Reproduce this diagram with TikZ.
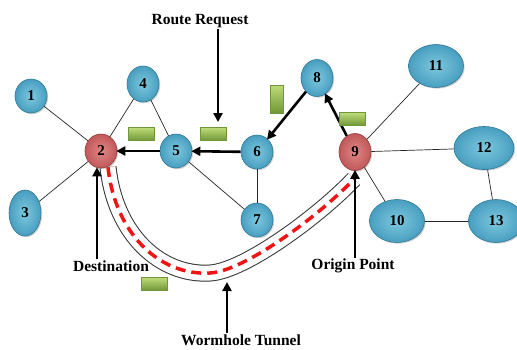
\documentclass[tikz,border=0pt]{standalone}
\usepackage{fontspec}
\setmainfont{Liberation Serif}
\usetikzlibrary{arrows.meta, positioning, shapes.geometric, shadows}

\definecolor{nodeblue}{RGB}{125,200,222}
\definecolor{nodeblueout}{RGB}{72,158,192}
\definecolor{rimblue}{RGB}{48,120,150}
\definecolor{nodered}{RGB}{225,135,135}
\definecolor{noderedout}{RGB}{192,88,88}
\definecolor{rimred}{RGB}{150,60,60}
\definecolor{boxgreen}{RGB}{190,220,120}
\definecolor{boxgreendark}{RGB}{112,150,55}
\definecolor{tunnelred}{RGB}{240,20,20}

\begin{document}
\begin{tikzpicture}[x=1pt, y=-1pt,
  main/.style = {ellipse, draw=rimblue, line width=0.6pt, inner color=nodeblue, outer color=nodeblueout,
                 minimum width=32pt, minimum height=34pt, inner sep=0pt,
                 font=\fontsize{15}{15}\selectfont\bfseries,
                 drop shadow={shadow xshift=1.2pt, shadow yshift=-1.2pt, opacity=.35}},
  bad/.style  = {main, draw=rimred, inner color=nodered, outer color=noderedout},
  big/.style  = {main, minimum width=55pt, minimum height=43pt},
  msg/.style  = {draw=boxgreendark, line width=0.4pt, top color=boxgreen, bottom color=boxgreendark,
                 minimum width=26pt, minimum height=13pt, inner sep=0pt},
  lbl/.style  = {font=\fontsize{15.5}{15.5}\selectfont\bfseries, inner sep=1pt},
  link/.style = {line width=0.7pt, black!85},
  hop/.style  = {line width=2.6pt, -{Triangle[length=9pt, width=9pt]}, shorten >=-1pt}]

  \useasboundingbox (0,0) rectangle (517,349);

  % wormhole tunnel between 2 and 9
  \coordinate (wa) at (108,167);
  \coordinate (wb) at (354,179);
  \draw[line width=17pt, black!80] (wa) .. controls (115,234) and (160,276) .. (210,273)
        .. controls (245,271) and (320,215) .. (wb);
  \draw[line width=15pt, white] (wa) .. controls (115,234) and (160,276) .. (210,273)
        .. controls (245,271) and (320,215) .. (wb);
  \draw[line width=3.5pt, tunnelred, dash pattern=on 10pt off 6pt] (wa) .. controls (115,234) and (160,276) .. (210,273)
        .. controls (245,271) and (320,215) .. (wb);

  \node[main] (1) at (31,96)   {1};
  \node[main, minimum height=36pt] (4) at (143,84) {4};
  \node[bad]  (2) at (101,151) {2};
  \node[main, minimum height=46pt] (3) at (25,213) {3};
  \node[main] (5) at (176,151) {5};
  \node[main] (6) at (257,152) {6};
  \node[main] (7) at (257,220) {7};
  \node[main, minimum height=37pt] (8) at (317,78) {8};
  \node[bad, minimum height=37pt]  (9) at (355,152) {9};
  \node[big]  (11) at (436,66)  {11};
  \node[big, minimum width=60pt] (12) at (484,148) {12};
  \node[big]  (10) at (397,221) {10};
  \node[big]  (13) at (496,221) {13};

  \path[link]
    (1) edge (2)
    (4) edge (2)
    (4) edge (5)
    (3) edge (2)
    (5) edge (7)
    (6) edge (7)
    (9) edge (11)
    (9) edge (12)
    (9) edge (10)
    (12) edge (13)
    (10) edge (13);

  % route request travelling back to 2
  \draw[hop] (9) -- (8);
  \draw[hop] (8) -- (6);
  \draw[hop] (6) -- (5);
  \draw[hop] (5) -- (2);

  \node[msg] (m1) at (141,134) {};
  \node[msg] (m2) at (213,134) {};
  \node[msg, minimum width=13pt, minimum height=28pt] (m3) at (277,99) {};
  \node[msg] (m4) at (352,119) {};
  \node[msg] (m5) at (154,284) {};

  \node[lbl] (rr)  at (200,21)  {Route Request};
  \node[lbl] (dst) at (111,266) {Destination};
  \node[lbl] (org) at (353,266) {Origin Point};
  \node[lbl] (wt)  at (241,340) {Wormhole Tunnel};

  \coordinate (rrend) at (218,121);
  \coordinate (wtend) at (227,283);
  \draw[hop] (rr.south -| rrend) -- (rrend);
  \draw[hop] (wt.north -| wtend) -- (wtend);
  \draw[hop] ([xshift=-14pt]dst.north) -- ([xshift=-14pt]dst.north |- 2.south);
  \draw[hop] (org.north -| 9) -- (9.south);
\end{tikzpicture}
\end{document}
